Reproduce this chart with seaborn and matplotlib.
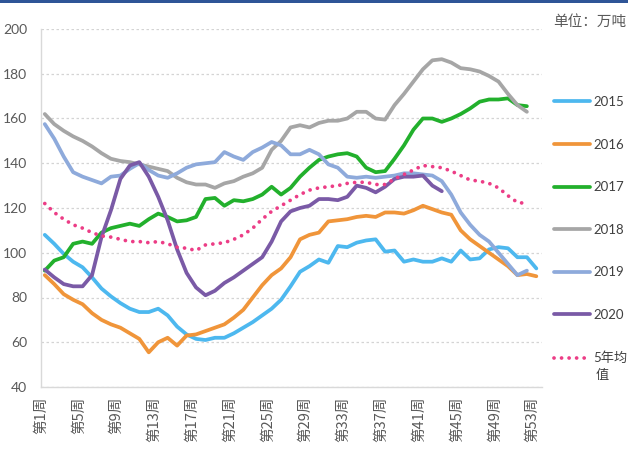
import matplotlib
matplotlib.use("Agg")
import numpy as np
import pandas as pd
import seaborn as sns
import matplotlib.pyplot as plt
from matplotlib.patches import Rectangle

# ---- data (weekly inventory, 万吨) ----
s2015 = [108, 104, 99.5, 96, 93.5, 89, 84, 80.5, 77.5, 75, 73.5, 73.5, 75, 72, 67, 63.5, 61.5, 61, 62, 62,
         64, 66.5, 69, 72, 75, 79, 85, 91.5, 94, 97, 95.5, 103, 102.5, 104.5, 105.5, 106, 100.5, 101, 96, 97,
         96, 96, 97.5, 96, 101, 97, 97.5, 101.5, 102.5, 102, 98, 98, 93]
s2016 = [90, 86, 81.5, 79, 77, 73, 70, 68, 66.5, 64, 61.5, 55.5, 60, 62, 58.5, 63, 63.5, 65, 66.5, 68,
         71, 74.5, 80, 85.5, 90, 93, 98, 106, 108, 109, 114, 114.5, 115, 116, 116.5, 116, 118, 118, 117.5, 119,
         121, 119.5, 118, 117, 110, 106, 103, 100, 97, 94, 90, 90.5, 89.5]
s2017 = [92, 96.5, 98, 104, 105, 104, 109, 111, 112, 113, 112, 115, 117.5, 116, 114, 114.5, 116, 124, 124.5, 121,
         123.5, 123, 124, 126, 129.5, 126, 129, 134, 138, 141.5, 143, 144, 144.5, 143, 138, 136, 136.5, 142, 148, 155,
         160, 160, 158.5, 160, 162, 164.5, 167.5, 168.5, 168.5, 169, 166, 165.5]
s2018 = [162, 157.5, 154.5, 152, 150, 147.5, 144.5, 142, 141, 140.5, 139.5, 138.5, 137.5, 136.5, 133.5, 131.5, 130.5, 130.5, 129, 131,
         132, 134, 135.5, 138, 146, 150, 156, 157, 156, 158, 159, 159, 160, 163, 163, 160, 159.5, 166, 171, 176.5,
         182, 186, 186.5, 185, 182.5, 182, 181, 179, 176.5, 171, 166, 163]
s2019 = [157.5, 151, 143, 136, 134, 132.5, 131, 134, 134.5, 137.5, 140, 137, 134.5, 133.5, 135.5, 138, 139.5, 140, 140.5, 145,
         143, 141.5, 145, 147, 149.5, 148, 144, 144, 146, 144, 139.5, 138, 134, 133.5, 134, 133.5, 134, 134.5, 135.5, 135.5,
         135, 134.5, 132, 126, 118, 112.5, 108, 105, 100, 95, 90, 92]
s2020 = [92.5, 89, 86, 85, 85, 90, 107, 119, 133, 139, 140.5, 134, 125, 114.5, 101.5, 91, 84.5, 81, 83, 86.5,
         89, 92, 95, 98, 105, 114, 118.5, 120, 121, 124, 124, 123.5, 125, 130, 129, 127, 129.5, 133, 134, 134,
         134.5, 130, 127.5]
avg5 = [122, 118, 115, 112.5, 111, 109, 107.5, 107, 106, 105, 105, 104.5, 105, 104, 102.5, 102, 101, 103.5, 104, 104.5,
        106, 108, 111, 115, 118.5, 121, 123.5, 126, 128, 129, 129.5, 130, 131, 131.5, 131.5, 130.5, 130.5, 133, 135, 137,
        139, 138.5, 138, 136.5, 134.5, 132.5, 132, 131, 129, 125.5, 122.5, 122]

series_names = ["2015", "2016", "2017", "2018", "2019", "2020", "5年均值"]
series_values = [s2015, s2016, s2017, s2018, s2019, s2020, avg5]
legend_labels = ["2015", "2016", "2017", "2018", "2019", "2020", "5年均"]
colors = ["#4db8ef", "#f0953a", "#22b02c", "#a6a6a6", "#8eaadb", "#7a5aa6", "#ec3d86"]

tick_weeks = list(range(1, 54, 4))
tick_labels = [f"第{w}周" for w in tick_weeks]
yticks = [40, 60, 80, 100, 120, 140, 160, 180, 200]

rows = []
for name, vals in zip(series_names, series_values):
    for i, v in enumerate(vals):
        rows.append({"week": i + 1, "value": v, "series": name})
df = pd.DataFrame(rows)

sns.set_theme(style="white")
plt.rcParams["font.family"] = ["Lato", "Noto Sans CJK SC", "DejaVu Sans"]

fig = plt.figure(figsize=(6.28, 4.5), dpi=100)
ax = fig.add_axes([41 / 628, 1 - 387 / 450, (542 - 41) / 628, (387 - 29) / 450])

for name, col in zip(series_names, colors):
    sub = df[df["series"] == name]
    sns.lineplot(data=sub, x="week", y="value", ax=ax, color=col, linewidth=2.7,
                 label=name, legend=False)

avg_line = ax.get_lines()[-1]
avg_line.set_linestyle((0, (0.01, 2.0)))
avg_line.set_dash_capstyle("round")
avg_line.set_linewidth(2.7)

ax.set_xlim(0.6, 53.6)
ax.set_ylim(40, 200)
ax.set_yticks(yticks)
ax.set_yticklabels([str(v) for v in yticks])
ax.set_xticks([w - 0.4 for w in tick_weeks])
ax.set_xticklabels(tick_labels, rotation=90, fontsize=10.5,
                   family=["Noto Sans CJK SC", "DejaVu Sans"])
ax.set_xlabel("")
ax.set_ylabel("")

ax.yaxis.grid(True, linestyle=(0, (2, 2)), color="#d4d4d4", linewidth=0.9)
ax.xaxis.grid(False)
for side in ["top", "right"]:
    ax.spines[side].set_visible(False)
for side in ["left", "bottom"]:
    ax.spines[side].set_color("#d9d9d9")
    ax.spines[side].set_linewidth(1.0)
ax.tick_params(axis="y", length=0, pad=10, labelsize=10, labelcolor="#595959")
ax.tick_params(axis="x", length=4, width=0.9, color="#d9d9d9", direction="out",
               pad=3, labelcolor="#595959")
ax.set_axisbelow(True)

handles = ax.get_lines()[:len(series_names)]
leg = fig.legend(handles, legend_labels, loc="upper left",
                 bbox_to_anchor=(554 / 628, 1 - 96 / 450), frameon=False,
                 fontsize=9.5, handlelength=2.7, handletextpad=0.3,
                 labelspacing=2.32, borderpad=0, borderaxespad=0)
for t in leg.get_texts():
    t.set_color("#404040")

fig.text(596 / 628, 1 - 376 / 450, "值", ha="left", va="center",
         fontsize=9.5, color="#404040", family=["Noto Sans CJK SC", "DejaVu Sans"])

fig.text(553 / 628, 1 - 22 / 450, "单位：万吨", ha="left", va="center",
         fontsize=10.5, color="#595959", family=["Noto Sans CJK SC", "DejaVu Sans"])

fig.patches.append(Rectangle((0, 1 - 3 / 450), 1, 3 / 450, transform=fig.transFigure,
                             facecolor="#2f5597", edgecolor="none"))

fig.savefig("out.png", dpi=100)
